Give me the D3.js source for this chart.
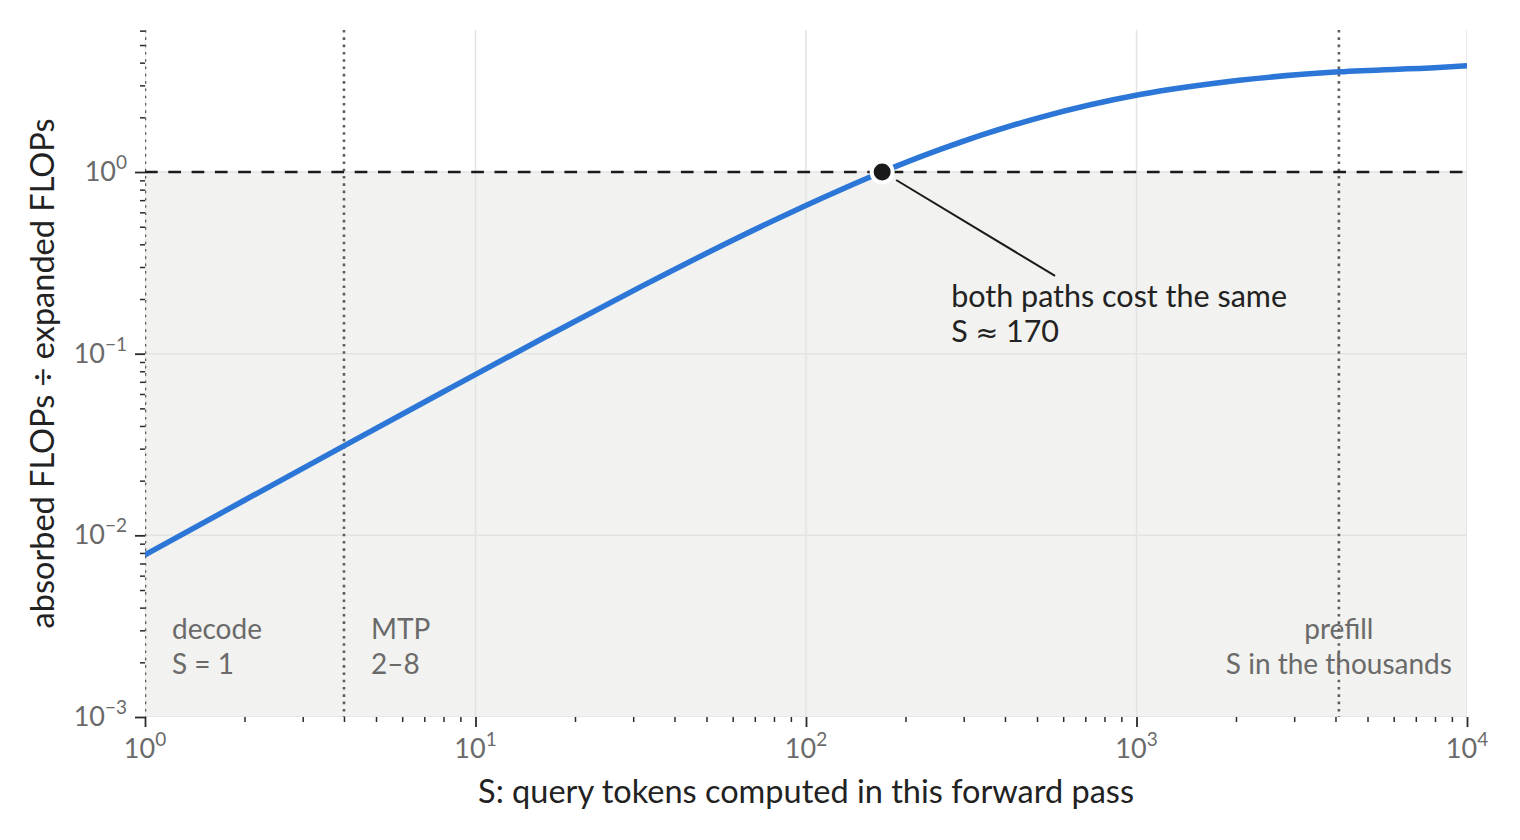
<!DOCTYPE html>
<html lang="en">
<head>
<meta charset="UTF-8">
<title>Absorbed vs expanded FLOPs</title>
<script src="https://d3js.org/d3.v7.min.js"></script>
<style>
    body { margin: 0; background: #fff; }
    svg { display: block; font-family: "Source Sans Pro", "Lato", sans-serif; }
    .tick text { display: none; }
    .domain { display: none; }
</style>
</head>
<body>
<svg width="1520" height="840"></svg>
<script>
    // values
    let tokens = [1, 2, 4, 8, 16, 32, 64, 128, 170, 256, 512, 1024, 2048, 4096, 8192, 10000];
    let ratio  = [0.0078, 0.0156, 0.0311, 0.0617, 0.1216, 0.236, 0.446, 0.802, 1.0, 1.336, 2.0, 2.67, 3.2, 3.56, 3.76, 3.84];
    let xMajors = [1, 10, 100, 1000, 10000];
    let yMajors = [0.001, 0.01, 0.1, 1];
    let regionLines = [1, 4, 4096];
    let regionLabels = [
        {s: 1, lines: ["decode", "S = 1"], anchor: "start"},
        {s: 4, lines: ["MTP", "2\u20138"], anchor: "start"},
        {s: 4096, lines: ["prefill", "S in the thousands"], anchor: "middle"}
    ];
    let crossing = {s: 170, r: 1.0};
    let noteLines = ["both paths cost the same", "S \u2248 170"];

    let svg = d3.select("svg");
    let W = 1520, H = 840;
    let margins = {left: 145, right: 53, top: 30, bottom: 123};
    let yMax = 6.05;

    let x = d3.scaleLog().domain([1, 10000]).range([margins.left, W - margins.right]);
    let y = d3.scaleLog().domain([0.001, yMax]).range([H - margins.bottom, margins.top]);

    let x0 = x.range()[0], x1 = x.range()[1];
    let yTop = y.range()[1], yBot = y.range()[0];

    svg.append("defs").append("clipPath").attr("id", "plot")
        .append("rect").attr("x", x0).attr("y", yTop).attr("width", x1 - x0).attr("height", yBot - yTop);

    let plot = svg.append("g").attr("clip-path", "url(#plot)");

    // shaded region where absorbed is cheaper
    plot.append("rect")
        .attr("x", x0).attr("y", y(1))
        .attr("width", x1 - x0).attr("height", yBot - y(1))
        .attr("fill", "#f2f2f0");

    // grid
    plot.selectAll(".vgrid").data(xMajors).enter().append("line")
        .attr("x1", d => x(d)).attr("x2", d => x(d))
        .attr("y1", yTop).attr("y2", yBot)
        .attr("stroke", "#e3e3e3").attr("stroke-width", 1.5);
    plot.selectAll(".hgrid").data(yMajors).enter().append("line")
        .attr("x1", x0).attr("x2", x1)
        .attr("y1", d => y(d)).attr("y2", d => y(d))
        .attr("stroke", "#e3e3e3").attr("stroke-width", 1.5);

    // regime markers
    plot.selectAll(".region").data(regionLines).enter().append("line")
        .attr("x1", d => x(d)).attr("x2", d => x(d))
        .attr("y1", yTop).attr("y2", yBot)
        .attr("stroke", "#5e5e5e").attr("stroke-width", 2.6)
        .attr("stroke-dasharray", "2.6,4.7");

    // break-even line
    plot.append("line")
        .attr("x1", x0).attr("x2", x1)
        .attr("y1", y(1)).attr("y2", y(1))
        .attr("stroke", "#1a1a1a").attr("stroke-width", 2.6)
        .attr("stroke-dasharray", "12.7,10.6");

    // region labels
    regionLabels.forEach(function (lab) {
        let lx = lab.anchor === "start" ? x(lab.s) + 27 : x(lab.s);
        let t = svg.append("text")
            .attr("x", lx).attr("y", 639)
            .attr("text-anchor", lab.anchor)
            .attr("fill", "#6a6a6a")
            .attr("font-size", 28);
        lab.lines.forEach(function (l, i) {
            t.append("tspan").attr("x", lx).attr("dy", i === 0 ? 0 : 35).text(l);
        });
    });

    // curve
    let line = d3.line()
        .x((d, i) => x(tokens[i]))
        .y(d => y(d))
        .curve(d3.curveMonotoneX);
    plot.append("path")
        .datum(ratio)
        .attr("d", line)
        .attr("fill", "none")
        .attr("stroke", "#2b76d6")
        .attr("stroke-width", 5.5);

    // annotation
    let cx = x(crossing.s), cy = y(crossing.r);
    svg.append("line")
        .attr("x1", cx + 14).attr("y1", cy + 8)
        .attr("x2", x(567)).attr("y2", y(0.268))
        .attr("stroke", "#1a1a1a").attr("stroke-width", 2);
    svg.append("circle")
        .attr("cx", cx).attr("cy", cy).attr("r", 10.5)
        .attr("fill", "#1a1a1a").attr("stroke", "#fff").attr("stroke-width", 4);
    let note = svg.append("text")
        .attr("x", x(275)).attr("y", 307)
        .attr("fill", "#222").attr("font-size", 30.5);
    note.append("tspan").attr("x", x(275)).text(noteLines[0]);
    let second = note.append("tspan").attr("x", x(275)).attr("dy", 35);
    second.append("tspan").text("S ");
    second.append("tspan").attr("font-family", "DejaVu Sans").attr("font-size", 27).text("\u2248");
    second.append("tspan").text(" 170");

    // axes: major and minor ticks
    let xMinors = [];
    let yMinors = [];
    for (let e = 0; e < 4; e++) for (let k = 2; k < 10; k++) xMinors.push(k * Math.pow(10, e));
    for (let e = -3; e < 1; e++) for (let k = 2; k < 10; k++) {
        let v = k * Math.pow(10, e);
        if (v <= yMax) yMinors.push(v);
    }

    function styleTicks(g, w) {
        g.selectAll(".tick line").attr("stroke", "#2a2a2a").attr("stroke-width", w);
    }
    svg.append("g").attr("transform", "translate(0," + yBot + ")")
        .call(d3.axisBottom(x).tickValues(xMajors).tickSize(10).tickFormat(""))
        .call(g => styleTicks(g, 1.8));
    svg.append("g").attr("transform", "translate(0," + yBot + ")")
        .call(d3.axisBottom(x).tickValues(xMinors).tickSize(5).tickFormat(""))
        .call(g => styleTicks(g, 1.5));
    svg.append("g").attr("transform", "translate(" + x0 + ",0)")
        .call(d3.axisLeft(y).tickValues(yMajors).tickSize(10).tickFormat(""))
        .call(g => styleTicks(g, 1.8));
    svg.append("g").attr("transform", "translate(" + x0 + ",0)")
        .call(d3.axisLeft(y).tickValues(yMinors).tickSize(5).tickFormat(""))
        .call(g => styleTicks(g, 1.5));

    function expLabel(sel, v) {
        let e = Math.round(Math.log10(v));
        sel.append("tspan").text("10");
        sel.append("tspan").attr("dy", -12).attr("font-size", 19)
            .text(e < 0 ? "\u2212" + (-e) : String(e));
    }
    xMajors.forEach(function (v) {
        svg.append("text")
            .attr("x", x(v)).attr("y", 758)
            .attr("text-anchor", "middle")
            .attr("fill", "#6a6a6a").attr("font-size", 27)
            .call(expLabel, v);
    });
    yMajors.forEach(function (v) {
        svg.append("text")
            .attr("x", x0 - 18).attr("y", y(v) + 9)
            .attr("text-anchor", "end")
            .attr("fill", "#6a6a6a").attr("font-size", 27)
            .call(expLabel, v);
    });

    // axis titles
    svg.append("text")
        .attr("x", (x0 + x1) / 2).attr("y", 803)
        .attr("text-anchor", "middle")
        .attr("fill", "#222").attr("font-size", 32.5)
        .text("S: query tokens computed in this forward pass");
    svg.append("text")
        .attr("transform", "translate(54," + (yTop + yBot) / 2 + ") rotate(-90)")
        .attr("text-anchor", "middle")
        .attr("fill", "#222").attr("font-size", 32.5)
        .text("absorbed FLOPs \u00f7 expanded FLOPs");
</script>
</body>
</html>
